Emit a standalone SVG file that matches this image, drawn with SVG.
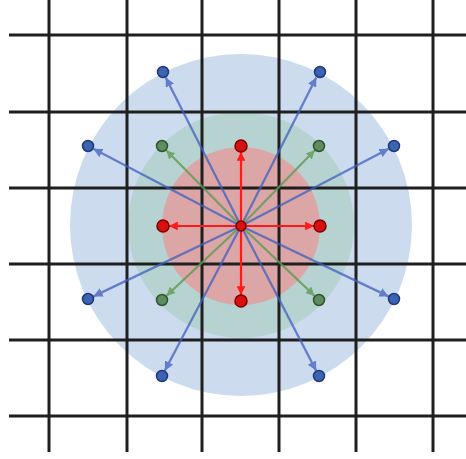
<svg xmlns="http://www.w3.org/2000/svg" width="466" height="459" viewBox="0 0 466 459">
<style>
.grid line{stroke:#1f1f1f;stroke-width:3}
.ab{stroke:#3f5fc0;stroke-width:2.3;opacity:0.75;marker-end:url(#hb)}
.ag{stroke:#5f9a55;stroke-width:2.2;opacity:0.8;marker-end:url(#hg)}
.ar{stroke:#ff1a1a;stroke-width:2.2;marker-end:url(#hr)}
.db{fill:#3d63b3;stroke:#1f3a78;stroke-width:1.5}
.dg{fill:#5e8c5e;stroke:#2f552f;stroke-width:1.5}
.dr{fill:#d81010;stroke:#7a0000;stroke-width:1.5}
</style>
<defs>
<marker id="hb" viewBox="0 0 10 10" refX="10" refY="5" markerWidth="4" markerHeight="4" orient="auto"><path d="M0,0L10,5L0,10z" fill="#3f5fc0"/></marker>
<marker id="hg" viewBox="0 0 10 10" refX="10" refY="5" markerWidth="4" markerHeight="4" orient="auto"><path d="M0,0L10,5L0,10z" fill="#5f9a55"/></marker>
<marker id="hr" viewBox="0 0 10 10" refX="10" refY="5" markerWidth="4" markerHeight="4" orient="auto"><path d="M0,0L10,5L0,10z" fill="#ff1a1a"/></marker>
</defs>
<rect width="466" height="459" fill="#ffffff"/>
<g id="regions">
<circle cx="241" cy="225" r="171" fill="#cddbef"/>
<circle cx="241" cy="225" r="113" fill="#b7d3d1"/>
<circle cx="241" cy="226" r="79" fill="#dca6a7"/>
</g>
<g class="grid" id="grid">
<line x1="49" y1="0" x2="49" y2="452"/>
<line x1="127" y1="0" x2="127" y2="452"/>
<line x1="202" y1="0" x2="202" y2="452"/>
<line x1="279" y1="0" x2="279" y2="452"/>
<line x1="356" y1="0" x2="356" y2="452"/>
<line x1="433" y1="0" x2="433" y2="452"/>
<line x1="9" y1="35" x2="466" y2="35"/>
<line x1="9" y1="112" x2="466" y2="112"/>
<line x1="9" y1="188" x2="466" y2="188"/>
<line x1="9" y1="264" x2="466" y2="264"/>
<line x1="9" y1="340" x2="466" y2="340"/>
<line x1="9" y1="416" x2="466" y2="416"/>
</g>
<g id="connectors">
<line class="ab" x1="241" y1="226" x2="165.7" y2="77.4"/>
<line class="ab" x1="241" y1="226" x2="316.3" y2="77.4"/>
<line class="ab" x1="241" y1="226" x2="93.3" y2="148.8"/>
<line class="ab" x1="241" y1="226" x2="388.7" y2="148.8"/>
<line class="ab" x1="241" y1="226" x2="93.4" y2="296.4"/>
<line class="ab" x1="241" y1="226" x2="388.6" y2="296.4"/>
<line class="ab" x1="241" y1="226" x2="164.8" y2="370.7"/>
<line class="ab" x1="241" y1="226" x2="316.2" y2="370.7"/>
<line class="ag" x1="241" y1="226" x2="166.2" y2="150.3"/>
<line class="ag" x1="241" y1="226" x2="314.8" y2="150.3"/>
<line class="ag" x1="241" y1="226" x2="166.4" y2="295.9"/>
<line class="ag" x1="241" y1="226" x2="314.6" y2="295.9"/>
<line class="ar" x1="241" y1="226" x2="241" y2="152"/>
<line class="ar" x1="241" y1="226" x2="241" y2="295"/>
<line class="ar" x1="241" y1="226" x2="169" y2="226"/>
<line class="ar" x1="241" y1="226" x2="314" y2="226"/>
</g>
<g id="center"><circle class="dr" cx="241" cy="226" r="5"/></g>
<g id="red-nodes">
<circle class="dr" cx="241" cy="146" r="6"/>
<circle class="dr" cx="241" cy="301" r="6"/>
<circle class="dr" cx="163" cy="226" r="6"/>
<circle class="dr" cx="320" cy="226" r="6"/>
</g>
<g id="green-nodes">
<circle class="dg" cx="162" cy="146" r="5.5"/>
<circle class="dg" cx="319" cy="146" r="5.5"/>
<circle class="dg" cx="162" cy="300" r="5.5"/>
<circle class="dg" cx="319" cy="300" r="5.5"/>
</g>
<g id="blue-nodes">
<circle class="db" cx="163" cy="72" r="5.5"/>
<circle class="db" cx="320" cy="72" r="5.5"/>
<circle class="db" cx="88" cy="146" r="5.5"/>
<circle class="db" cx="394" cy="146" r="5.5"/>
<circle class="db" cx="88" cy="299" r="5.5"/>
<circle class="db" cx="394" cy="299" r="5.5"/>
<circle class="db" cx="162" cy="376" r="5.5"/>
<circle class="db" cx="319" cy="376" r="5.5"/>
</g>
</svg>
